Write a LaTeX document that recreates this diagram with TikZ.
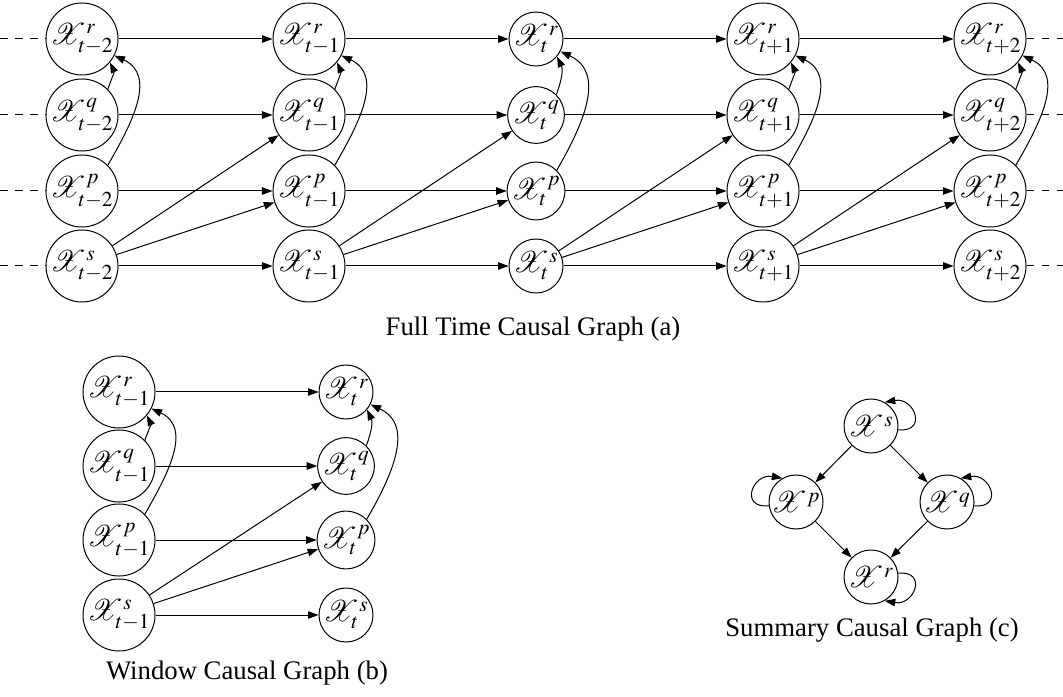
\documentclass[tikz,border=0pt]{standalone}
\usepackage{mathptmx}
\usepackage{mathrsfs}
\usepackage{fontspec}
\setmainfont{Liberation Serif}
\usetikzlibrary{arrows.meta}
\begin{document}
\begin{tikzpicture}[x=0.4pt,y=-0.4pt,
  vnode/.style={circle,draw,inner sep=0pt,font=\fontsize{11.5}{13}\selectfont},
  bignode/.style={vnode,minimum size=28.8pt},
  smallnode/.style={vnode,minimum size=21.6pt},
  arr/.style={-{Triangle[length=4.2pt,width=3pt]}},
  dashline/.style={dashed},
  selfloop/.style={arr,min distance=12pt},
  caption/.style={font=\fontsize{10.7}{12}\selectfont}]
\useasboundingbox (0,0) rectangle (1063,697);
% ---------- Full time causal graph ----------
\foreach \c/\x/\lab/\ms in {m2/82/{t-2}/28.8, m1/309/{t-1}/28.8, z/536/{t}/21.6, p1/763/{t+1}/28.8, p2/990/{t+2}/28.8}{
  \foreach \v/\y in {r/39, q/115, p/191, s/266}{
    \node[vnode,minimum size=\ms pt] (\v\c) at (\x,\y) {$\mathscr{X}^{\v}_{\lab}$};
  }
}
\foreach \v/\y in {r/39, q/115, p/191, s/266}{
  \coordinate (L\v) at (0,\y);
  \coordinate (R\v) at (1063,\y);
  \draw[dashline] (L\v) -- (\v m2);
  \draw[dashline] (\v p2) -- (R\v);
  \draw[arr] (\v m2) -- (\v m1);
  \draw[arr] (\v m1) -- (\v z);
  \draw[arr] (\v z) -- (\v p1);
  \draw[arr] (\v p1) -- (\v p2);
}
\foreach \a/\b in {m2/m1, m1/z, z/p1, p1/p2}{
  \draw[arr] (s\a) -- (q\b);
  \draw[arr] (s\a) -- (p\b);
}
\foreach \c in {m2,m1,z,p1,p2}{
  \draw[arr] (q\c.45) to[out=70,in=-65] (r\c.-40);
  \draw[arr] (p\c.45) to[out=60,in=-25,looseness=1.1] (r\c.-27);
}
\node[caption] (capa) at (533,329) {Full Time Causal Graph (a)};
% ---------- Window causal graph ----------
\foreach \v/\y in {r/392, q/466, p/540, s/615}{
  \node[bignode] (w\v1) at (119,\y) {$\mathscr{X}^{\v}_{t-1}$};
  \node[smallnode] (w\v0) at (346,\y) {$\mathscr{X}^{\v}_{t}$};
  \draw[arr] (w\v1) -- (w\v0);
}
\draw[arr] (ws1) -- (wq0);
\draw[arr] (ws1) -- (wp0);
\draw[arr] (wq1.45) to[out=70,in=-65] (wr1.-40);
\draw[arr] (wp1.45) to[out=60,in=-25,looseness=1.1] (wr1.-27);
\draw[arr] (wq0.45) to[out=70,in=-65] (wr0.-40);
\draw[arr] (wp0.45) to[out=60,in=-25,looseness=1.1] (wr0.-27);
\node[caption] (capb) at (247,673) {Window Causal Graph (b)};
% ---------- Summary causal graph ----------
\node[smallnode] (ss) at (871,426) {$\mathscr{X}^{s}$};
\node[smallnode] (sp) at (796,502) {$\mathscr{X}^{p}$};
\node[smallnode] (sq) at (947,502) {$\mathscr{X}^{q}$};
\node[smallnode] (sr) at (871,577) {$\mathscr{X}^{r}$};
\draw[arr] (ss) -- (sp);
\draw[arr] (ss) -- (sq);
\draw[arr] (sp) -- (sr);
\draw[arr] (sq) -- (sr);
\draw[selfloop] (ss.-8) to[out=-5,in=10] (ss.60);
\draw[selfloop] (sq.-8) to[out=-5,in=10] (sq.60);
\draw[selfloop] (sp.188) to[out=185,in=170] (sp.120);
\draw[selfloop] (sr.8) to[out=5,in=-10] (sr.-60);
\node[caption] (capc) at (872,630) {Summary Causal Graph (c)};
\end{tikzpicture}
\end{document}
